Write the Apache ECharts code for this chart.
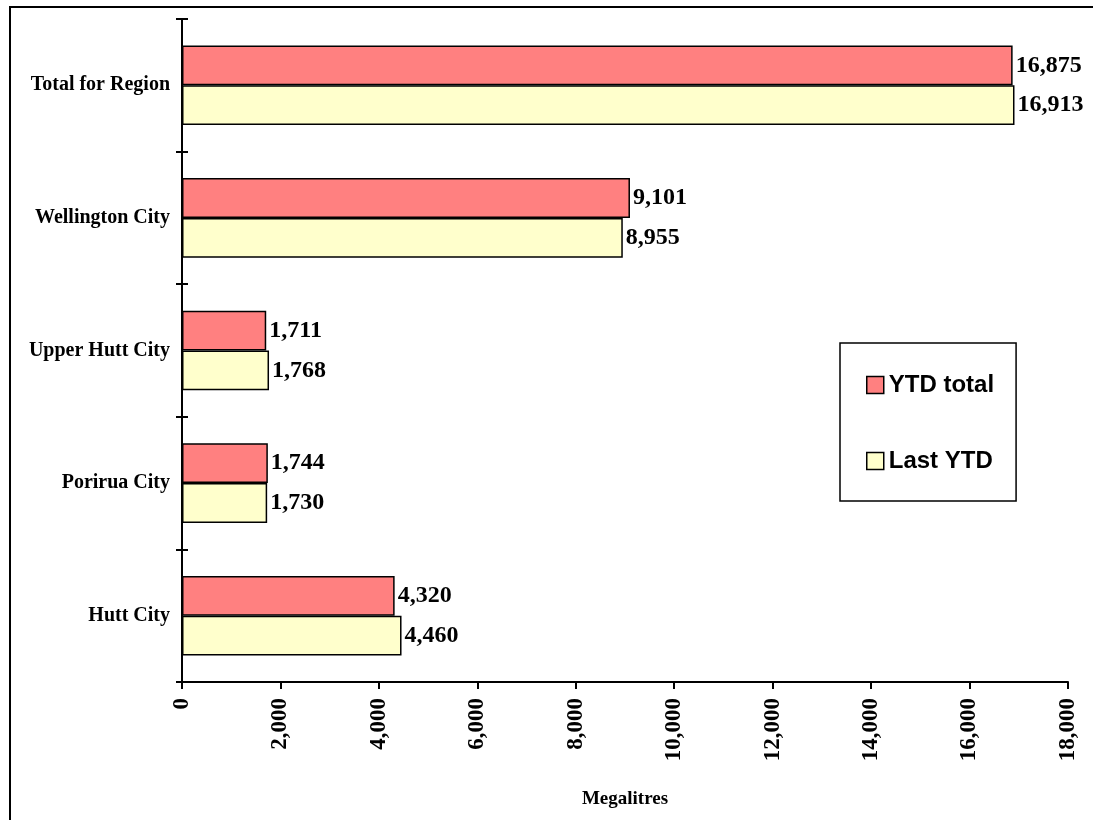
<!DOCTYPE html>
<html><head><meta charset="utf-8">
<script src="https://cdn.jsdelivr.net/npm/echarts@6/dist/echarts.min.js"></script>
<style>html,body{margin:0;padding:0;background:#fff}#c{width:1093px;height:820px}</style>
</head><body><div id="c"></div>
<script>
const categories = ['Total for Region', 'Wellington City', 'Upper Hutt City', 'Porirua City', 'Hutt City'];
const ytdTotal = [16875, 9101, 1711, 1744, 4320];
const lastYtd = [16913, 8955, 1768, 1730, 4460];
const xTicks = [0, 2000, 4000, 6000, 8000, 10000, 12000, 14000, 16000, 18000];

const serif = '"Liberation Serif", "Times New Roman", serif';
const fmt = v => v.toString().replace(/\B(?=(\d{3})+(?!\d))/g, ',');
const chart = echarts.init(document.getElementById('c'));
chart.setOption({
  animation: false,
  graphic: [{type: 'rect', shape: {x: 10, y: 7, width: 1200, height: 900}, style: {fill: 'none', stroke: '#000', lineWidth: 2}, z: 100}],
  grid: {left: 182, right: 25, top: 19, bottom: 138},
  legend: {
    orient: 'vertical', left: 840, top: 343,
    padding: [30, 22, 28, 26], itemGap: 52, icon: 'rect',
    itemWidth: 17, itemHeight: 17, itemStyle: {borderColor: '#000', borderWidth: 1.5},
    borderColor: '#000', borderWidth: 1.5, backgroundColor: '#fff',
    textStyle: {fontFamily: '"Liberation Sans", Arial, sans-serif', fontWeight: 'bold', fontSize: 24, color: '#000', padding: [0, 0, 0, 0]},
    data: ['YTD total', 'Last YTD']
  },
  xAxis: {
    type: 'value', min: xTicks[0], max: xTicks[xTicks.length - 1], interval: 2000,
    name: 'Megalitres', nameLocation: 'middle', nameGap: 108,
    nameTextStyle: {fontFamily: serif, fontWeight: 'bold', fontSize: 19, color: '#000'},
    splitLine: {show: false},
    axisLine: {show: true, lineStyle: {color: '#000', width: 2}},
    axisTick: {show: true, length: 7, lineStyle: {color: '#000', width: 2}},
    axisLabel: {rotate: 90, margin: 16, formatter: fmt, fontFamily: serif, fontWeight: 'bold', fontSize: 23, color: '#000'}
  },
  yAxis: [{
    type: 'category', inverse: true, data: categories,
    axisLine: {show: true, lineStyle: {color: '#000', width: 2}},
    axisTick: {show: true, length: 6, lineStyle: {color: '#000', width: 2}},
    axisLabel: {margin: 12, fontFamily: serif, fontWeight: 'bold', fontSize: 20, color: '#000'}
  }, {
    type: 'category', inverse: true, data: categories, position: 'left',
    axisLine: {show: false},
    axisTick: {show: true, inside: true, length: 6, lineStyle: {color: '#000', width: 2}},
    axisLabel: {show: false}
  }],
  series: [{
    name: 'YTD total', type: 'bar', data: ytdTotal, barCategoryGap: '40%', barGap: '0%',
    itemStyle: {color: '#FF8080', borderColor: '#000', borderWidth: 1.5},
    label: {show: true, position: 'right', distance: 3, formatter: p => fmt(p.value), fontFamily: serif, fontWeight: 'bold', fontSize: 24, color: '#000'}
  }, {
    name: 'Last YTD', type: 'bar', data: lastYtd, barCategoryGap: '40%', barGap: '0%',
    itemStyle: {color: '#FFFFCC', borderColor: '#000', borderWidth: 1.5},
    label: {show: true, position: 'right', distance: 3, formatter: p => fmt(p.value), fontFamily: serif, fontWeight: 'bold', fontSize: 24, color: '#000'}
  }]
});
</script></body></html>
